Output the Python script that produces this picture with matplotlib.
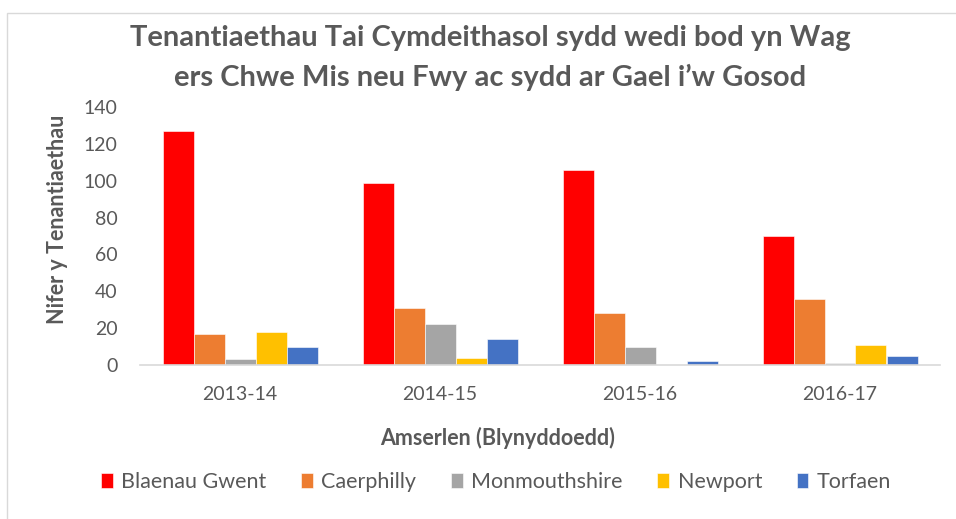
import numpy as np
import matplotlib.pyplot as plt
from matplotlib.patches import Rectangle

plt.rcParams['font.family'] = ['Lato', 'DejaVu Sans']

years = ['2013-14', '2014-15', '2015-16', '2016-17']
areas = ['Blaenau Gwent', 'Caerphilly', 'Monmouthshire', 'Newport', 'Torfaen']
blaenau_gwent = [127, 99, 106, 70]
caerphilly = [17, 31, 28, 36]
monmouthshire = [3, 22, 10, 1]
newport = [18, 4, 0, 11]
torfaen = [10, 14, 2, 5]
colors = ['#FF0000', '#ED7D31', '#A5A5A5', '#FFC000', '#4472C4']

series = [blaenau_gwent, caerphilly, monmouthshire, newport, torfaen]
text_col = '#595959'

fig = plt.figure(figsize=(9.56, 5.19), dpi=100)
ax = fig.add_axes([140/956, 1 - 365/519, 800/956, 258/519])

x = np.arange(len(years))
w = 0.155
for i, (vals, name) in enumerate(zip(series, areas)):
    ax.bar(x + (i - 2) * w, vals, w, color=colors[i], label=name,
           edgecolor='white', linewidth=0.4)

ax.set_xlim(-0.5, len(years) - 0.5)
ax.set_ylim(0, 140)
ax.set_yticks(range(0, 141, 20))
ax.set_xticks(x)
ax.set_xticklabels(years)
for s in ['top', 'right', 'left']:
    ax.spines[s].set_visible(False)
ax.spines['bottom'].set_color('#D9D9D9')
ax.spines['bottom'].set_linewidth(1.2)
ax.tick_params(axis='both', length=0, labelsize=14, labelcolor=text_col)
ax.tick_params(axis='y', pad=16)
ax.tick_params(axis='x', pad=15)

fig.text(0.513, 1 - 58/519,
         'Tenantiaethau Tai Cymdeithasol sydd wedi bod yn Wag\n'
         'ers Chwe Mis neu Fwy ac sydd ar Gael i\u2019w Gosod',
         ha='center', va='center', fontsize=21, fontweight='bold',
         color=text_col, linespacing=1.55)
fig.text(57/956, 1 - 219/519, 'Nifer y Tenantiaethau', rotation=90,
         ha='center', va='center', fontsize=15.5, fontweight='bold', color=text_col)
fig.text(498/956, 1 - 438/519, 'Amserlen (Blynyddoedd)',
         ha='center', va='center', fontsize=15.5, fontweight='bold', color=text_col)

leg = fig.legend(loc='center', bbox_to_anchor=(496/956, 1 - 482/519), ncol=5,
                 frameon=False, fontsize=15.5, handlelength=0.55, handleheight=0.7,
                 handletextpad=0.4, columnspacing=1.6)
for t in leg.get_texts():
    t.set_color(text_col)

fig.patches.append(Rectangle((7/956, -0.1), 1.1, 1 - 13/519 + 0.1,
                             transform=fig.transFigure, fill=False,
                             edgecolor='#D9D9D9', linewidth=1))

fig.savefig('out.png', dpi=100)
